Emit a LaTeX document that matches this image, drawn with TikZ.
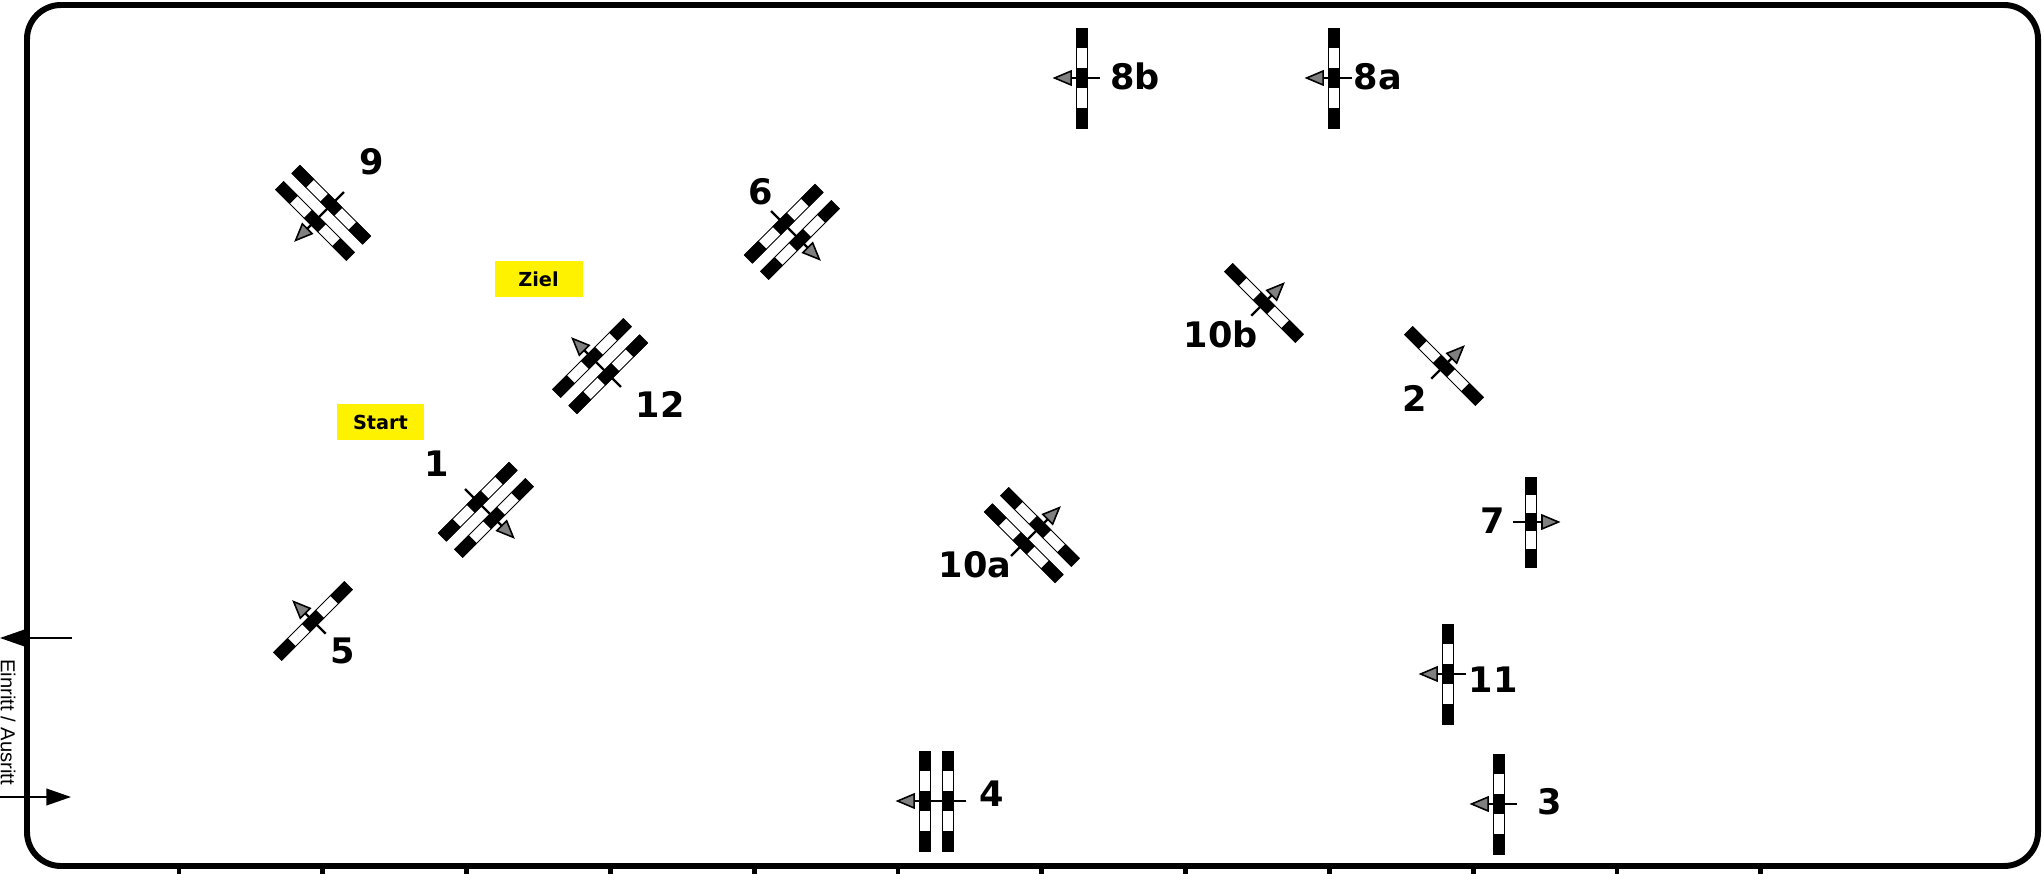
\documentclass[tikz,border=0pt]{standalone}
\usepackage{fontspec}
\setmainfont{DejaVu Sans}
\setsansfont{Liberation Sans}
\usetikzlibrary{arrows.meta}

\newcommand{\gatebar}[1]{
    \draw[line width=0.5pt, fill=white] (#1-5.6,-50) rectangle (#1+5.6,50);
    \fill (#1-6,-50) rectangle (#1+6,-30);
    \fill (#1-6,-10) rectangle (#1+6,10);
    \fill (#1-6,30) rectangle (#1+6,50);
}

\tikzset{
  gatenum/.style={anchor=base, font=\fontsize{20}{21}\selectfont\bfseries, inner sep=0pt},
  markbox/.style={fill=yellow, minimum width=1.76cm, minimum height=0.74cm, inner sep=0pt,
    font=\fontsize{11}{12}\selectfont\bfseries},
  gatearrow/.style={line width=1.3pt, -{Triangle[length=11pt, width=9pt, fill=gray, line width=0.9pt]}},
  gate/.pic={
    \gatebar{0}
    \draw[gatearrow] (18,0) -- (-29.5,0);
  },
  dgate/.pic={
    \gatebar{0}
    \gatebar{23}
    \draw[gatearrow] (41,0) -- (-29.5,0);
  },
}

\begin{document}
\begin{tikzpicture}[x=0.02cm, y=-0.02cm]
    \useasboundingbox (0,0) rectangle (2044,874);

    % Field
    \draw[line width=3.4pt, rounded corners=0.68cm] (27,5) rectangle (2038,866);
    \foreach \tick in {0,...,11}
        \draw[line width=2.8pt] ({179+143.8*\tick},866) -- ({179+143.8*\tick},874);

    % Entry and exit
    \coordinate (outTail) at (72,638);
    \coordinate (outTip) at (0,638);
    \coordinate (inTail) at (0,797);
    \coordinate (inTip) at (71,797);
    \draw[line width=0.9pt, -{Triangle[length=14pt, width=9.5pt]}] (outTail) -- (outTip);
    \draw[line width=0.9pt, -{Triangle[length=14pt, width=9.5pt]}] (inTail) -- (inTip);
    \node[rotate=-90, anchor=base, inner sep=0pt, font=\sffamily\fontsize{11.5}{12}\selectfont] (entry) at (1,722) {Einritt / Ausritt};

    % Marks
    \node[markbox] (ziel) at (538.5,279) {Ziel};
    \node[markbox] (start) at (380.5,422) {Start};

    % Double gates
    \pic[rotate=135] (gOne) at (494,518) {dgate};
    \pic (gFour) at (925,801) {dgate};
    \pic[rotate=135] (gSix) at (800,240) {dgate};
    \pic[rotate=45] (gNine) at (315,221) {dgate};
    \pic[rotate=-135] (gTenA) at (1040,527) {dgate};
    \pic[rotate=-45] (gTwelve) at (592,358) {dgate};

    % Single gates
    \pic[rotate=-135] (gTwo) at (1444,366) {gate};
    \pic (gThree) at (1499,804) {gate};
    \pic[rotate=-45] (gFive) at (313,621) {gate};
    \pic[rotate=180, yscale=0.9] (gSeven) at (1531,522) {gate};
    \pic (gEightA) at (1334,78) {gate};
    \pic (gEightB) at (1082,78) {gate};
    \pic[rotate=-135] (gTenB) at (1264,303) {gate};
    \pic (gEleven) at (1448,674) {gate};

    % Numbers
    \node[gatenum] (n1) at (437,477) {1};
    \node[gatenum] (n2) at (1415,412) {2};
    \node[gatenum] (n3) at (1550,814) {3};
    \node[gatenum] (n4) at (992,806) {4};
    \node[gatenum] (n5) at (343,663) {5};
    \node[gatenum] (n6) at (761,205) {6};
    \node[gatenum] (n7) at (1493,533) {7};
    \node[gatenum] (n8a) at (1378,90) {8a};
    \node[gatenum] (n8b) at (1135,90) {8b};
    \node[gatenum] (n9) at (372,175) {9};
    \node[gatenum] (n10a) at (975,577) {10a};
    \node[gatenum] (n10b) at (1221,348) {10b};
    \node[gatenum] (n11) at (1493,692) {11};
    \node[gatenum] (n12) at (660,418) {12};
\end{tikzpicture}
\end{document}
